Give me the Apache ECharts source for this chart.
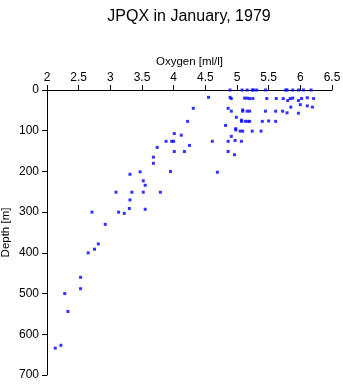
<!DOCTYPE html>
<html><head><meta charset="utf-8">
<script src="https://cdn.jsdelivr.net/npm/echarts@6/dist/echarts.min.js"></script>
<style>html,body{margin:0;padding:0;background:#fff}#c{width:343px;height:384px}</style>
</head><body><div id="c"></div>
<script>
var titleText = "JPQX in January, 1979";
var xName = "Oxygen [ml/l]";
var yName = "Depth [m]";
var oxygen = [
4.89,5.08,5.16,5.24,5.26,5.31,5.45,5.77,5.79,5.88,5.97,6.05,6.17,
4.55,4.89,4.91,5.12,5.16,5.20,5.25,5.47,5.62,5.73,5.84,5.88,6.02,6.11,6.21,
5.80,5.97,6.00,6.11,6.19,5.85,4.31,4.86,
4.91,5.09,5.09,5.16,5.20,5.45,5.61,5.72,5.79,5.97,4.99,
4.22,5.07,5.07,5.13,5.17,5.20,5.40,5.50,5.61,4.82,4.98,4.98,
4.01,4.12,5.05,5.09,5.24,5.38,4.91,
3.88,3.97,4.00,4.61,4.86,4.97,5.07,4.25,3.74,4.01,4.17,4.86,4.96,
3.68,3.68,3.95,3.47,4.69,3.31,3.52,3.55,
3.09,3.34,3.52,3.79,3.31,3.30,3.55,2.71,3.13,3.22,2.92,
2.81,2.75,2.65,2.53,2.53,2.28,2.33,2.22,2.13
];
var depth = [
0,0,0,0,0,0,0,0,0,0,0,0,0,
18,18,21,20,20,21,21,21,21,21,21,20,21,19,21,
26,26,36,39,42,42,45,45,
52,49,52,52,52,52,52,52,56,57,67,
77,74,77,77,77,77,77,76,77,87,95,98,
107,111,101,101,101,101,114,
126,126,126,126,126,124,126,136,141,151,151,151,159,
165,180,200,201,202,207,223,234,
251,251,251,251,270,291,293,300,300,303,330,
378,391,400,460,488,500,544,627,634
];
var points = oxygen.map(function(v,i){return [v, depth[i]];});
var chart = echarts.init(document.getElementById('c'));
var font = 'Liberation Sans, Arial, sans-serif';
chart.setOption({
  animation:false,
  title:{text:titleText,left:184,textAlign:'center',top:4,textStyle:{fontFamily:font,fontSize:16,fontWeight:'normal',color:'#000'}},
  grid:{left:47,top:90,width:285,height:285,containLabel:false,outerBoundsMode:'none'},
  xAxis:{type:'value',position:'top',min:2,max:6.5,interval:0.5,
    name:xName,nameLocation:'middle',nameGap:22,nameMoveOverlap:false,
    nameTextStyle:{fontFamily:font,fontSize:11.5,color:'#000'},
    axisLine:{show:true,lineStyle:{color:'#000',width:1}},
    axisTick:{show:true,length:5,lineStyle:{color:'#000'}},
    axisLabel:{fontFamily:font,fontSize:12,color:'#000',margin:6},
    splitLine:{show:false}},
  yAxis:{type:'value',inverse:true,min:0,max:700,interval:100,
    name:yName,nameLocation:'middle',nameGap:35,nameRotate:90,nameMoveOverlap:false,
    nameTextStyle:{fontFamily:font,fontSize:11.5,color:'#000'},
    axisLine:{show:true,lineStyle:{color:'#000',width:1}},
    axisTick:{show:true,length:5,lineStyle:{color:'#000'}},
    axisLabel:{fontFamily:font,fontSize:12,color:'#000',margin:8},
    splitLine:{show:false}},
  series:[{type:'scatter',data:points,symbol:'rect',symbolSize:3,itemStyle:{color:'#0000ff'}}]
});
</script></body></html>
